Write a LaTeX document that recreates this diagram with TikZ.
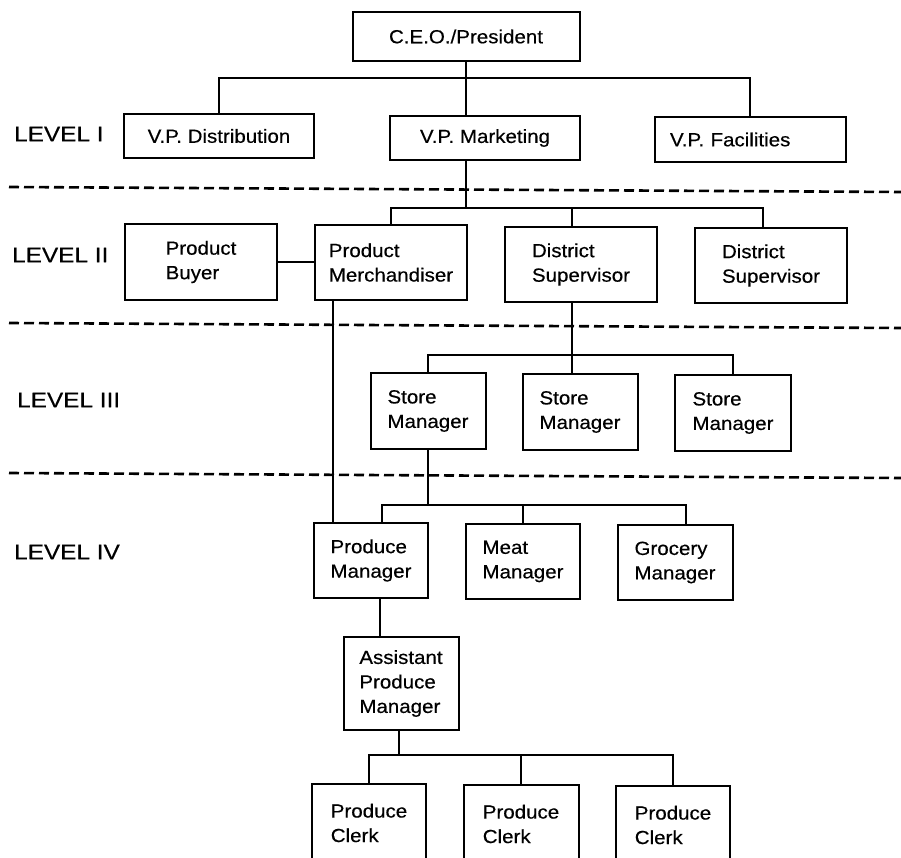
\documentclass[tikz,border=0pt]{standalone}
\usepackage{fontspec}
\setmainfont{Liberation Sans}[FakeStretch=1.08, FakeBold=0.4]
\newfontfamily\lvlfont{Liberation Sans}[FakeStretch=1.16, FakeBold=0.4]
\begin{document}
\begin{tikzpicture}[x=1pt,y=-1pt,
  orgbox/.style={draw, line width=2pt, inner sep=0pt, align=left,
    font=\fontsize{19}{24.5}\selectfont},
  conn/.style={line width=2pt},
  sepline/.style={line width=2.6pt, dash pattern=on 10pt off 5pt},
  lvl/.style={anchor=west, inner sep=0pt, font=\lvlfont\fontsize{21}{24}\selectfont}]
\clip (0,0) rectangle (901,858);
\useasboundingbox (0,0) rectangle (901,858);

% separators
\draw[sepline] (9,187) -- (901,192);
\draw[sepline] (9,323) -- (901,328);
\draw[sepline] (9,473) -- (901,478);

% level labels
\node[lvl] (l1) at (14,134) {LEVEL I};
\node[lvl] (l2) at (12,255) {LEVEL II};
\node[lvl] (l3) at (17,400) {LEVEL III};
\node[lvl] (l4) at (14,552) {LEVEL IV};

% boxes
\node[orgbox, minimum width=227pt, minimum height=49pt] (ceo) at (466,36.5) {C.E.O./President};
\node[orgbox, minimum width=190pt, minimum height=44pt] (vpd) at (219,136) {V.P. Distribution};
\node[orgbox, minimum width=190pt, minimum height=44pt] (vpm) at (485,138) {V.P. Marketing};
\node[orgbox, minimum width=191pt, minimum height=45pt, text width=160pt, inner xsep=15.5pt] (vpf) at (750,139.5) {V.P. Facilities};

\node[orgbox, minimum width=152pt, minimum height=75pt] (buyer) at (201,262) {Product\\Buyer};
\node[orgbox, minimum width=152pt, minimum height=75pt] (merch) at (391,262.5) {Product\\Merchandiser};
\node[orgbox, minimum width=152pt, minimum height=75pt] (ds1) at (581,264.5) {District\\Supervisor};
\node[orgbox, minimum width=152pt, minimum height=75pt] (ds2) at (771,265.5) {District\\Supervisor};

\node[orgbox, minimum width=115pt, minimum height=76pt] (sm1) at (428,411) {Store\\Manager};
\node[orgbox, minimum width=115pt, minimum height=76pt] (sm2) at (580,412) {Store\\Manager};
\node[orgbox, minimum width=116pt, minimum height=76pt] (sm3) at (733,413) {Store\\Manager};

\node[orgbox, minimum width=114pt, minimum height=75pt] (pm) at (371,560.5) {Produce\\Manager};
\node[orgbox, minimum width=114pt, minimum height=75pt] (meat) at (523,561.5) {Meat\\Manager};
\node[orgbox, minimum width=115pt, minimum height=75pt] (groc) at (675,562.5) {Grocery\\Manager};

\node[orgbox, minimum width=115pt, minimum height=93pt] (apm) at (401,683.5) {Assistant\\Produce\\Manager};

\node[orgbox, minimum width=114pt, minimum height=78pt] (c1) at (369,823) {Produce\\Clerk};
\node[orgbox, minimum width=115pt, minimum height=78pt] (c2) at (521,824) {Produce\\Clerk};
\node[orgbox, minimum width=114pt, minimum height=78pt] (c3) at (673,825) {Produce\\Clerk};

% bus coordinates
\coordinate (b1) at (466,78);
\coordinate (b2) at (466,208);
\coordinate (b3) at (572,355);
\coordinate (b4) at (428,505);
\coordinate (b5) at (399,755);

% connectors
\draw[conn] (ceo.south) -- (ceo.south |- vpm.north);
\draw[conn] (vpd.north) |- (b1) -| (vpf.north);

\draw[conn] (b2 |- vpm.south) -- (b2);
\draw[conn] (merch.north) |- (b2) -| ([xshift=-8pt]ds2.north);
\draw[conn] ([xshift=-9pt]ds1.north) -- ([xshift=-9pt]ds1.north |- b2);
\draw[conn] (buyer.east) -- (buyer.east -| merch.west);

\draw[conn] ([xshift=-58pt]merch.south) -- ([xshift=-58pt]merch.south |- pm.north);

\draw[conn] ([xshift=-9pt]ds1.south) -- (b3);
\draw[conn] (sm1.north) |- (b3) -| (sm3.north);
\draw[conn] ([xshift=-8pt]sm2.north) -- ([xshift=-8pt]sm2.north |- b3);

\draw[conn] (sm1.south) -- (b4);
\draw[conn] ([xshift=11pt]pm.north) |- (b4) -| ([xshift=11pt]groc.north);
\draw[conn] (meat.north) -- (meat.north |- b4);

\draw[conn] ([xshift=9pt]pm.south) -- ([xshift=9pt]pm.south |- apm.north);

\draw[conn] ([xshift=-2pt]apm.south) -- (b5);
\draw[conn] (c1.north) |- (b5) -| (c3.north);
\draw[conn] (c2.north) -- (c2.north |- b5);
\end{tikzpicture}
\end{document}
